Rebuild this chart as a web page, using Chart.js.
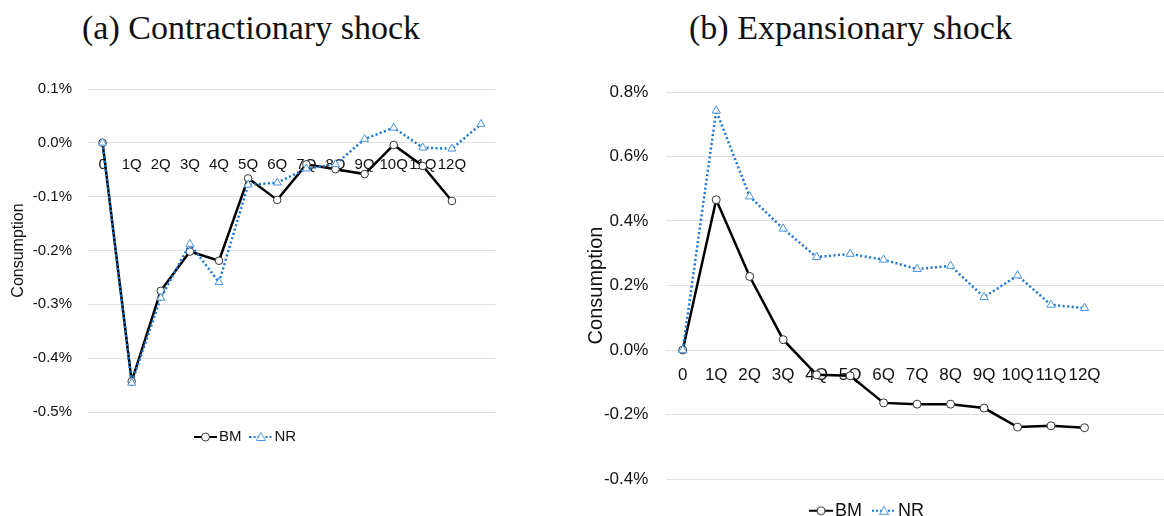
<!DOCTYPE html>
<html>
<head>
<meta charset="utf-8">
<script src="https://cdn.jsdelivr.net/npm/chart.js"></script>
<style>
  html, body { margin: 0; background: #fff; overflow: hidden; width: 1164px; height: 516px; }
  .ttl { position: absolute; top: 11px; font: 34px/1 "Liberation Serif", serif; color: #111; text-align: center; white-space: nowrap; }
  canvas { position: absolute; top: 0; }
</style>
</head>
<body>
<div class="ttl" style="left:0;width:502px">(a) Contractionary shock</div>
<div class="ttl" style="left:600px;width:501px">(b) Expansionary shock</div>
<canvas id="contract" width="520" height="460" style="left:0"></canvas>
<canvas id="expand" width="604" height="540" style="left:570px"></canvas>
<script>
// quarters after the shock
const steps = ['0', '1Q', '2Q', '3Q', '4Q', '5Q', '6Q', '7Q', '8Q', '9Q', '10Q', '11Q', '12Q']

// (a) contractionary shock, consumption response in %
const contractBM = [0, -0.443, -0.275, -0.202, -0.219, -0.066, -0.106, -0.040, -0.049, -0.058, -0.004, -0.043, -0.108]
const contractNR = [0, -0.446, -0.288, -0.188, -0.259, -0.078, -0.074, -0.048, -0.040, 0.007, 0.028, -0.009, -0.011, 0.035]

// (b) expansionary shock
const expandBM = [0, 0.466, 0.228, 0.032, -0.077, -0.080, -0.164, -0.168, -0.168, -0.180, -0.239, -0.235, -0.241]
const expandNR = [0, 0.742, 0.476, 0.376, 0.288, 0.298, 0.280, 0.251, 0.261, 0.164, 0.231, 0.140, 0.130]

const blue = '#1a75d2'
const blueLight = '#4b94dc'

Chart.defaults.font.family = '"Liberation Sans", Arial, sans-serif'
Chart.defaults.color = '#111'

// little "line + marker" picture for the legend
function legendIcon(w, h, color, dash, marker, markerColor) {
    const c = document.createElement('canvas')
    c.width = w
    c.height = h
    const g = c.getContext('2d')
    g.strokeStyle = color
    g.lineWidth = 2
    g.setLineDash(dash)
    g.beginPath()
    g.moveTo(0, h / 2)
    g.lineTo(w, h / 2)
    g.stroke()
    g.setLineDash([])
    g.fillStyle = '#fff'
    g.strokeStyle = markerColor
    g.lineWidth = 1
    g.beginPath()
    if (marker === 'circle') {
        g.arc(w / 2, h / 2, 4, 0, Math.PI * 2)
    } else {
        g.moveTo(w / 2, h / 2 - 4.5)
        g.lineTo(w / 2 + 4.5, h / 2 + 3.5)
        g.lineTo(w / 2 - 4.5, h / 2 + 3.5)
        g.closePath()
    }
    g.fill()
    g.stroke()
    return c
}

function buildShockChart(id, labels, bm, nr, look) {
    const icons = {
        BM: legendIcon(look.iconW, 12, '#000', [], 'circle', '#333'),
        NR: legendIcon(look.iconW, 12, blue, [2, 2], 'triangle', blueLight)
    }

    new Chart(id, {
        type: 'line',
        data: {
            labels: labels,
            datasets: [{
                label: 'BM',
                data: bm,
                borderColor: '#000',
                borderWidth: 2.5,
                pointStyle: 'circle',
                pointRadius: look.dot,
                pointBackgroundColor: '#fff',
                pointBorderColor: '#333',
                pointBorderWidth: 1,
                order: 2
            }, {
                label: 'NR',
                data: nr,
                borderColor: blue,
                borderWidth: 2.5,
                borderDash: [2, 2.5],
                pointStyle: 'triangle',
                pointRadius: look.dot + 0.8,
                pointBackgroundColor: '#fff',
                pointBorderColor: blueLight,
                pointBorderWidth: 1,
                order: 1
            }]
        },
        options: {
            responsive: false,
            animation: false,
            devicePixelRatio: 1,
            layout: { padding: look.padding },
            plugins: {
                tooltip: { enabled: false },
                legend: {
                    position: 'bottom',
                    title: { display: true, text: '', font: { size: look.legendGap, lineHeight: 1 } },
                    labels: {
                        font: { size: look.legendSize },
                        usePointStyle: true,
                        pointStyleWidth: look.iconW - look.legendSize + 4,
                        padding: look.legendPad,
                        sort: (a, b) => a.datasetIndex - b.datasetIndex,
                        generateLabels: chart => Chart.defaults.plugins.legend.labels.generateLabels(chart).map(item => {
                            item.pointStyle = icons[item.text]
                            return item
                        })
                    }
                }
            },
            scales: {
                x: {
                    type: 'category',
                    offset: true,
                    position: { y: 0 },
                    z: 1,
                    grid: { display: false, drawTicks: false },
                    border: { display: false },
                    ticks: {
                        autoSkip: false,
                        maxRotation: 0,
                        minRotation: 0,
                        padding: look.xPad,
                        font: { size: look.tickSize }
                    },
                    afterFit: scale => { scale.height = 0 }
                },
                y: {
                    min: look.yMin,
                    max: look.yMax,
                    grid: { color: '#e0e0e0', drawTicks: false },
                    border: { display: false },
                    ticks: {
                        stepSize: look.step,
                        padding: look.yPad,
                        font: { size: look.tickSize },
                        callback: v => (Math.round(v * 10) / 10).toFixed(1) + '%'
                    },
                    title: {
                        display: true,
                        text: 'Consumption',
                        font: { size: look.titleSize },
                        padding: { top: look.titlePad, bottom: 0 }
                    },
                    afterFit: scale => { scale.width = look.axisWidth }
                }
            }
        }
    })
}

buildShockChart('contract', steps.concat(['']), contractBM, contractNR, {
    yMin: -0.5, yMax: 0.1, step: 0.1,
    tickSize: 15, legendSize: 15, titleSize: 16, titlePad: 9,
    axisWidth: 88, yPad: 16, xPad: 13.5, dot: 3.8,
    iconW: 23, legendPad: 13.5, legendGap: 4,
    padding: { left: 0, top: 89, right: 24.4, bottom: 5.5 }
})

buildShockChart('expand', steps.concat(['', '']), expandBM, expandNR, {
    yMin: -0.4, yMax: 0.8, step: 0.2,
    tickSize: 17, legendSize: 18, titleSize: 20, titlePad: 14.3,
    axisWidth: 96, yPad: 17.7, xPad: 15.5, dot: 4,
    iconW: 24, legendPad: 17, legendGap: 5.7,
    padding: { left: 0, top: 92, right: 4, bottom: 10.3 }
})
</script>
</body>
</html>
